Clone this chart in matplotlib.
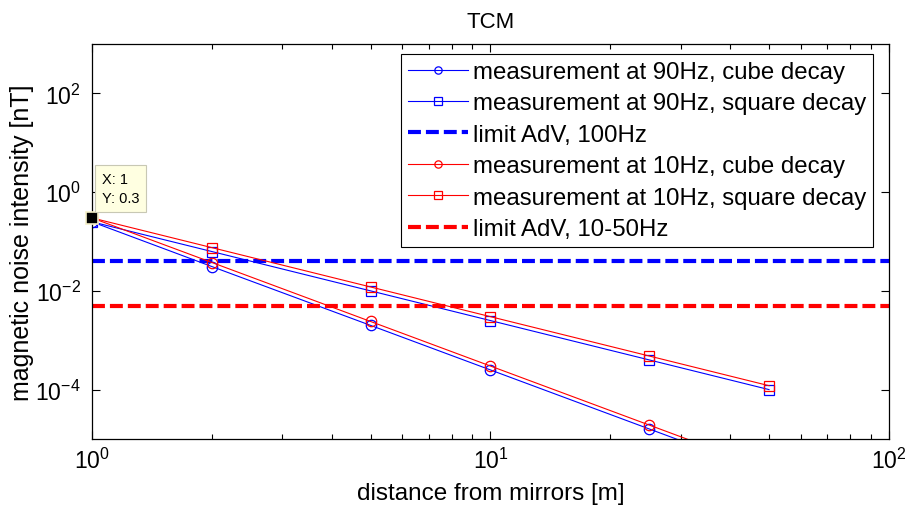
import numpy as np
import matplotlib
matplotlib.use("Agg")
import matplotlib.pyplot as plt
from matplotlib.ticker import LogLocator, NullFormatter, NullLocator

plt.rcParams['font.family'] = ['Liberation Sans', 'DejaVu Sans']
plt.rcParams['mathtext.fontset'] = 'custom'
plt.rcParams['mathtext.rm'] = 'Liberation Sans'

# distances [m]
distance = [1, 2, 5, 10, 25, 50]

# measured amplitude at 1 m, extrapolated with cube / square decay
cube_90 = [0.25, 0.031, 0.002, 0.00025, 1.6e-05, 2.0e-06]
square_90 = [0.25, 0.0625, 0.01, 0.0025, 0.0004, 0.0001]
cube_10 = [0.3, 0.0375, 0.0024, 0.0003, 1.92e-05, 2.4e-06]
square_10 = [0.3, 0.075, 0.012, 0.003, 0.00048, 0.00012]

# AdV limits
limit_x = [1, 100]
limit_100 = [0.04, 0.04]
limit_10_50 = [0.005, 0.005]

fig = plt.figure(figsize=(9.09, 5.10), dpi=100)
ax = fig.add_axes([0.1012, 0.1373, 0.8768, 0.7745])

dash = (0, (3.1, 1.2))
ax.plot(distance, cube_90, '-o', color='blue', lw=0.8, ms=7.5, mfc='none', mew=0.9,
        label='measurement at 90Hz, cube decay')
ax.plot(distance, square_90, '-s', color='blue', lw=0.8, ms=7.5, mfc='none', mew=0.9,
        label='measurement at 90Hz, square decay')
ax.plot(limit_x, limit_100, color='blue', lw=3, ls=dash, dash_capstyle='butt',
        label='limit AdV, 100Hz')
ax.plot(distance, cube_10, '-o', color='red', lw=0.8, ms=7.5, mfc='none', mew=0.9,
        label='measurement at 10Hz, cube decay')
ax.plot(distance, square_10, '-s', color='red', lw=0.8, ms=7.5, mfc='none', mew=0.9,
        label='measurement at 10Hz, square decay')
ax.plot(limit_x, limit_10_50, color='red', lw=3, ls=dash, dash_capstyle='butt',
        label='limit AdV, 10-50Hz')

ax.set_xscale('log')
ax.set_yscale('log')
ax.set_xlim(1, 100)
ax.set_ylim(1e-5, 1e3)

ax.yaxis.set_major_locator(LogLocator(base=100.0))
ax.yaxis.set_minor_locator(NullLocator())
ax.xaxis.set_minor_locator(LogLocator(base=10.0, subs=np.arange(2, 10)))
ax.xaxis.set_minor_formatter(NullFormatter())

ax.tick_params(which='both', direction='in', top=True, right=True, labelsize=16.5)
ax.tick_params(which='major', length=6, width=0.8)
ax.tick_params(which='minor', length=3.7, width=0.8)
ax.tick_params(axis='x', pad=6)
ax.tick_params(axis='y', pad=8)
for s in ax.spines.values():
    s.set_linewidth(0.9)

ax.set_xlabel('distance from mirrors [m]', fontsize=17.5, labelpad=7)
ax.set_ylabel('magnetic noise intensity [nT]', fontsize=18, labelpad=1)
ax.set_title('TCM', fontsize=16, pad=12)

leg = ax.legend(loc='upper right', bbox_to_anchor=(0.98, 0.975), fontsize=17.3,
                frameon=True, fancybox=False, edgecolor='black', framealpha=1,
                handlelength=2.5, handletextpad=0.2, labelspacing=0.39,
                borderpad=0.3, borderaxespad=0, markerscale=0.7)
leg.get_frame().set_linewidth(0.8)

# data tip
ax.plot([1], [0.3], 's', color='black', ms=9, mec='#f5f0c8', mew=1.2,
        clip_on=False, zorder=5)
ax.annotate('X: 1\nY: 0.3', xy=(1, 0.3), xytext=(7, 9), textcoords='offset points',
            fontsize=10.5, va='bottom', ha='left', linespacing=1.5,
            bbox=dict(boxstyle='square,pad=0.45', fc='#ffffe1', ec='#c8c8b4', lw=0.8),
            zorder=6)

fig.savefig('out.png', dpi=100)
